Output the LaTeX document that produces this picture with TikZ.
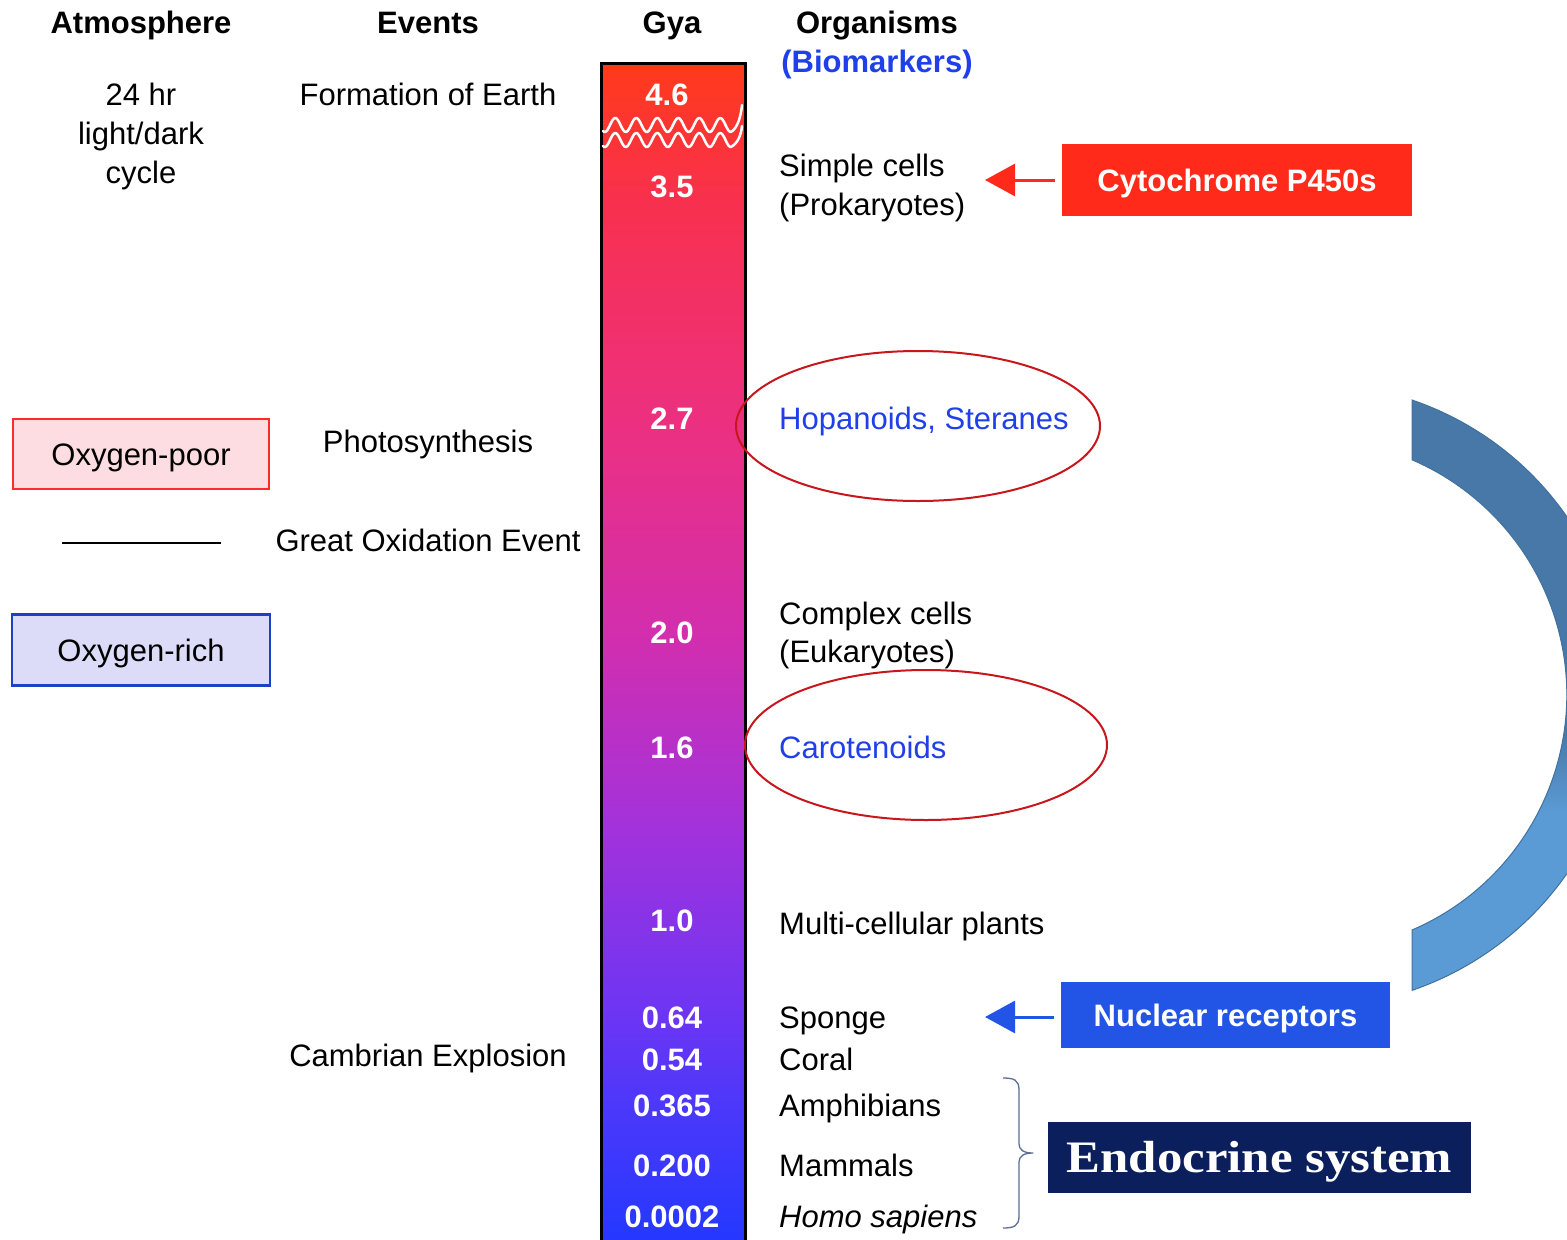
\documentclass[tikz,border=0pt]{standalone}
\usepackage{fontspec}
\setmainfont{Liberation Sans}
\newfontfamily\serifbold{Liberation Serif}
\usetikzlibrary{arrows.meta,shapes.geometric,decorations.pathreplacing}
\definecolor{ct}{HTML}{FF3A1A}
\definecolor{cA}{HTML}{F8304E}
\definecolor{cB}{HTML}{EC3080}
\definecolor{cC}{HTML}{D22EAE}
\definecolor{cD}{HTML}{A232DC}
\definecolor{cE}{HTML}{6A35F4}
\definecolor{cF}{HTML}{4A38FA}
\definecolor{cb}{HTML}{2238FF}
\definecolor{arcdark}{HTML}{4878A8}
\definecolor{arclight}{HTML}{5B9BD5}
\definecolor{arcedge}{HTML}{41719C}
\definecolor{bluetxt}{HTML}{1F3FEA}
\definecolor{cytored}{HTML}{FF2A1A}
\definecolor{nucblue}{HTML}{2255E6}
\definecolor{navy}{HTML}{0B1F5C}
\definecolor{ellred}{HTML}{C8161D}
\definecolor{poorfill}{HTML}{FDDDE2}
\definecolor{poordraw}{HTML}{FF2A2A}
\definecolor{richfill}{HTML}{DCDCF8}
\definecolor{richdraw}{HTML}{1E3FC8}
\definecolor{bracecol}{HTML}{5A6E96}
\pgfdeclareverticalshading{barshade}{100bp}{color(0bp)=(cb); color(25bp)=(cb); color(30.9bp)=(cF); color(34.6bp)=(cE); color(42.7bp)=(cD); color(50.9bp)=(cC); color(59.9bp)=(cB); color(69.2bp)=(cA); color(75bp)=(ct); color(100bp)=(ct)}
\pgfdeclareverticalshading{arcshade}{100bp}{color(0bp)=(arclight); color(40bp)=(arclight); color(47bp)=(arcdark); color(100bp)=(arcdark)}
\begin{document}
\begin{tikzpicture}[x=1pt,y=-1pt,
  txt/.style={font=\fontsize{31}{37}\selectfont, inner sep=0pt, anchor=base},
  hdr/.style={txt, font=\fontsize{31}{37}\selectfont\bfseries},
  num/.style={hdr, text=white},
  org/.style={txt, anchor=base west},
  legendbox/.style={font=\fontsize{31}{37}\selectfont, line width=2.5pt, inner sep=0pt, text height=22pt, text depth=0pt},
  tagbox/.style={font=\fontsize{31}{37}\selectfont\bfseries, text=white, inner sep=0pt, text height=22pt, text depth=0pt},
  ring/.style={ellipse, draw=ellred, line width=2pt, inner sep=0pt},
  pointer/.style={line width=3pt, -{Triangle[length=30pt,width=32pt]}, shorten <=7pt}
]
\useasboundingbox (0,0) rectangle (1567,1240);
\clip (0,0) rectangle (1567,1240);
\fill[white] (0,0) rectangle (1567,1240);

% bar
\path[shading=barshade] (601,63) rectangle (745,1250);
\draw[line width=3pt] (601,1250) -- (601,63) -- (745,63) -- (745,1250);
\draw[white, line width=2.5pt, line join=round, line cap=round]
  plot[domain=603:731, samples=120, smooth] (\x, {125 - 7*sin(17.142857*(\x-610))})
  .. controls (738,128) and (741,115) .. (742,105);
\draw[white, line width=2.5pt, line join=round, line cap=round]
  plot[domain=603:731, samples=120, smooth] (\x, {140 - 7*sin(17.142857*(\x-610))})
  .. controls (738,143) and (741,135) .. (742,126);

% headers
\node[hdr] (hAtm) at (141,33) {Atmosphere};
\node[hdr] (hEv) at (428,33) {Events};
\node[hdr] (hGya) at (672,33) {Gya};
\node[hdr] (hOrg) at (877,33) {Organisms};
\node[hdr, text=bluetxt] (hBio) at (877,72) {(Biomarkers)};

% atmosphere column
\node[txt] (a1) at (141,105) {24 hr};
\node[txt] (a2) at (141,144) {light/dark};
\node[txt] (a3) at (141,183) {cycle};
\node[legendbox, fill=poorfill, draw=poordraw, minimum width=256pt, minimum height=70pt] (poor) at (141,454) {Oxygen-poor};
\node[legendbox, fill=richfill, draw=richdraw, minimum width=258pt, minimum height=71pt] (rich) at (141,650) {Oxygen-rich};
\coordinate (goeA) at (62,543);
\coordinate (goeB) at (221,543);
\draw[line width=2.5pt] (goeA) -- (goeB);

% events
\node[txt] (e1) at (428,105) {Formation of Earth};
\node[txt] (e2) at (428,452) {Photosynthesis};
\node[txt] (e3) at (428,551) {Great Oxidation Event};
\node[txt] (e4) at (428,1066) {Cambrian Explosion};

% numbers
\node[num] (n1) at (667,105) {4.6};
\node[num] (n2) at (672,197) {3.5};
\node[num] (n3) at (672,429) {2.7};
\node[num] (n4) at (672,643) {2.0};
\node[num] (n5) at (672,758) {1.6};
\node[num] (n6) at (672,931) {1.0};
\node[num] (n7) at (672,1028) {0.64};
\node[num] (n8) at (672,1070) {0.54};
\node[num] (n9) at (672,1116) {0.365};
\node[num] (n10) at (672,1176) {0.200};
\node[num] (n11) at (672,1227) {0.0002};

% organisms
\node[org] (o1) at (779,176) {Simple cells};
\node[org] (o2) at (779,215) {(Prokaryotes)};
\node[org, text=bluetxt] (o3) at (779,429) {Hopanoids, Steranes};
\node[org] (o4) at (779,624) {Complex cells};
\node[org] (o5) at (779,662) {(Eukaryotes)};
\node[org, text=bluetxt] (o6) at (779,758) {Carotenoids};
\node[org] (o7) at (779,934) {Multi-cellular plants};
\node[org] (o8) at (779,1028) {Sponge};
\node[org] (o9) at (779,1070) {Coral};
\node[org] (o10) at (779,1116) {Amphibians};
\node[org] (o11) at (779,1176) {Mammals};
\node[org, font=\fontsize{31}{37}\selectfont\itshape] (o12) at (779,1227) {Homo sapiens};

% ellipses
\node[ring, minimum width=364pt, minimum height=150pt] (ell1) at (918,426) {};
\node[ring, minimum width=362pt, minimum height=150pt] (ell2) at (926,745) {};

% tag boxes and arrows
\node[tagbox, fill=cytored, minimum width=350pt, minimum height=72pt] (cyto) at (1237,180) {Cytochrome P450s};
\coordinate (cytotip) at (985,180);
\draw[pointer, cytored] (cyto.west) -- (cytotip);
\node[tagbox, fill=nucblue, minimum width=329pt, minimum height=66pt] (nuc) at (1225.5,1015) {Nuclear receptors};
\coordinate (nuctip) at (985,1017);
\draw[pointer, nucblue] (nuc.west |- nuctip) -- (nuctip);

% brace and endocrine
\coordinate (bt) at (1003,1078);
\coordinate (bm) at (1033,1153);
\coordinate (bb) at (1003,1228);
\draw[bracecol, line width=1.3pt, line join=round]
  (bt) .. controls (1014,1078) and (1019,1080) .. (1019,1090) -- (1019,1144)
  .. controls (1019,1150) and (1024,1153) .. (bm)
  .. controls (1024,1153) and (1019,1156) .. (1019,1162) -- (1019,1216)
  .. controls (1019,1226) and (1014,1228) .. (bb);
\node[fill=navy, text=white, inner sep=0pt, minimum width=423pt, minimum height=71pt,
  text height=30pt, text depth=0pt,
  font=\serifbold\bfseries\fontsize{45}{50}\selectfont] (endo) at (1259.5,1157.5) {\scalebox{1.13}[1]{Endocrine system}};

% arc
\path[shading=arcshade, draw=arcedge, line width=1pt]
  (1412,400) arc[start angle=71.1, end angle=-71.1, radius=312pt]
  -- (1412,930) arc[start angle=-66.7, end angle=66.7, radius=256pt] -- cycle;
\end{tikzpicture}
\end{document}
